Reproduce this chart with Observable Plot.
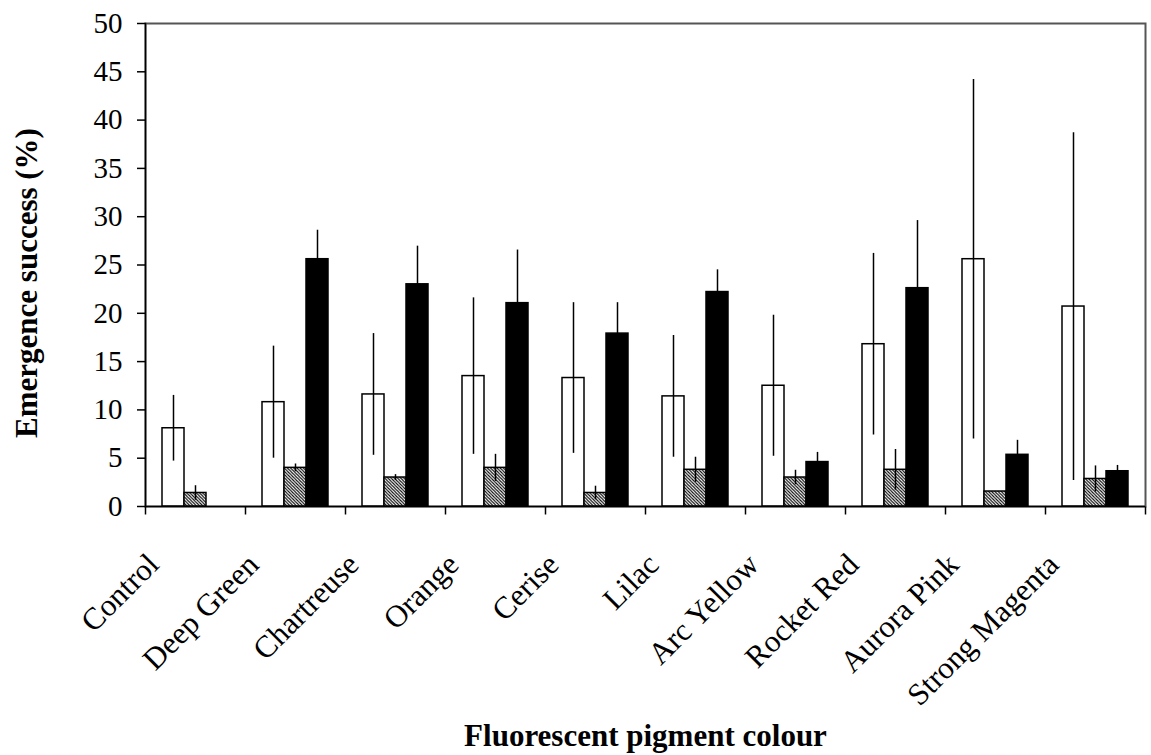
<!DOCTYPE html>
<html>
<head>
<meta charset="utf-8">
<script src="https://cdn.jsdelivr.net/npm/d3@7"></script>
<script src="https://cdn.jsdelivr.net/npm/@observablehq/plot@0.6"></script>
<style>
  html, body { margin: 0; padding: 0; background: #fff; }
  #chart { width: 1151px; height: 755px; }
</style>
</head>
<body>
<div id="chart"></div>
<script>
// ---- data ----
const categories = ["Control", "Deep Green", "Chartreuse", "Orange", "Cerise", "Lilac", "Arc Yellow", "Rocket Red", "Aurora Pink", "Strong Magenta"];
const seriesKeys = ["open", "hatched", "solid"];
const openMean    = [8.1, 10.8, 11.6, 13.5, 13.3, 11.4, 12.5, 16.8, 25.6, 20.7];
const openErr     = [3.4, 5.8, 6.3, 8.1, 7.8, 6.3, 7.3, 9.4, 18.6, 18.0];
const hatchedMean = [1.4, 4.0, 3.0, 4.0, 1.4, 3.8, 3.0, 3.8, 1.55, 2.85];
const hatchedErr  = [0.75, 0.4, 0.3, 1.4, 0.7, 1.3, 0.75, 2.1, 0, 1.35];
const solidMean   = [0, 25.6, 23.0, 21.05, 17.9, 22.2, 4.6, 22.6, 5.35, 3.65];
const solidErr    = [0, 3.0, 3.95, 5.5, 3.2, 2.3, 1.0, 7.0, 1.5, 0.6];
const yTicks = [0, 5, 10, 15, 20, 25, 30, 35, 40, 45, 50];
const yTitle = "Emergence success (%)";
const xTitle = "Fluorescent pigment colour";

// ---- table built from arrays ----
const means = {open: openMean, hatched: hatchedMean, solid: solidMean};
const errs = {open: openErr, hatched: hatchedErr, solid: solidErr};
const rows = [];
categories.forEach((cat, i) => {
  seriesKeys.forEach(s => {
    rows.push({cat, series: s, mean: means[s][i], err: errs[s][i]});
  });
});
const fills = {open: "white", hatched: "url(#hatch)", solid: "black"};

const serif = "'Liberation Serif', 'Times New Roman', serif";
const tickSym = {draw(ctx) { ctx.moveTo(0, 0); ctx.lineTo(0, 8); }};

const chart = Plot.plot({
  width: 1151,
  height: 755,
  marginLeft: 144,
  marginRight: 6,
  marginTop: 23,
  marginBottom: 249,
  style: {fontFamily: serif, fontSize: "28px", color: "black", background: "white"},
  fx: {domain: categories, padding: 0, axis: null},
  x: {domain: seriesKeys, paddingInner: 0, paddingOuter: 0.69, axis: null},
  y: {domain: [0, 50], axis: null},
  marks: [
    Plot.frame({facet: "super", stroke: "#555", strokeWidth: 2}),
    Plot.frame({facet: "super", anchor: "left", stroke: "black", strokeWidth: 1.5}),
    Plot.axisY({ticks: yTicks, tickSize: 8, tickPadding: 15, fontSize: 29, label: null, strokeWidth: 1.5}),
    Plot.barY(rows.filter(d => d.mean > 0), {
      fx: "cat", x: "series", y: "mean",
      fill: d => fills[d.series], stroke: "black", strokeWidth: 1.5
    }),
    Plot.ruleX(rows.filter(d => d.err > 0), {
      fx: "cat", x: "series", y1: d => d.mean - d.err, y2: d => d.mean + d.err,
      stroke: "black", strokeWidth: 1.5
    }),
    Plot.ruleY([0], {stroke: "black", strokeWidth: 1.5}),
    Plot.dot(categories, {fx: d => d, frameAnchor: "bottom-left", symbol: tickSym, fill: "none", stroke: "black", strokeWidth: 1.5}),
    Plot.dot(categories.slice(-1), {fx: d => d, frameAnchor: "bottom-right", symbol: tickSym, fill: "none", stroke: "black", strokeWidth: 1.5}),
    Plot.text(categories, {
      fx: d => d, text: d => d, frameAnchor: "bottom", rotate: -45,
      textAnchor: "end", lineAnchor: "bottom", dx: -35, dy: 60, fontSize: 31
    }),
    Plot.text([yTitle], {facet: "super", text: d => d, frameAnchor: "left", textAnchor: "middle", rotate: -90, dx: -118, dy: 18, fontSize: 31, fontWeight: "bold"}),
    Plot.text([xTitle], {facet: "super", text: d => d, frameAnchor: "bottom", textAnchor: "middle", lineAnchor: "bottom", dy: 239, fontSize: 31, fontWeight: "bold"})
  ]
});

// hatch pattern definition
const svg = chart.tagName.toLowerCase() === "svg" ? chart : chart.querySelector("svg");
const ns = "http://www.w3.org/2000/svg";
const defs = document.createElementNS(ns, "defs");
defs.innerHTML = '<pattern id="hatch" patternUnits="userSpaceOnUse" width="3.2" height="3.2">' +
  '<rect width="3.2" height="3.2" fill="white"/>' +
  '<path d="M-1,-1 L4.2,4.2 M-1,2.2 L1,4.2 M2.2,-1 L4.2,1" stroke="black" stroke-width="1.1"/></pattern>';
svg.insertBefore(defs, svg.firstChild);
document.getElementById("chart").appendChild(chart);
</script>
</body>
</html>
